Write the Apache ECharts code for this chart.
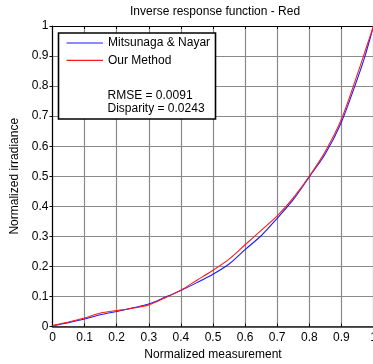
<!DOCTYPE html>
<html>
<head>
<meta charset="utf-8">
<script src="https://cdn.jsdelivr.net/npm/echarts@6/dist/echarts.min.js"></script>
<style>
  html, body { margin: 0; padding: 0; background: #fff; }
  #chart { width: 373px; height: 364px; }
</style>
</head>
<body>
<div id="chart"></div>
<script>
// Normalized measurement sample positions
const measurement = [0, 0.05, 0.1, 0.15, 0.2, 0.25, 0.3, 0.35, 0.4, 0.45, 0.5, 0.55, 0.6, 0.65, 0.7, 0.75, 0.8, 0.85, 0.9, 0.95, 0.975, 1];
// Inverse response, Mitsunaga & Nayar
const mitsunagaNayar = [0.002, 0.013, 0.025, 0.039, 0.05, 0.062, 0.075, 0.097, 0.12, 0.146, 0.174, 0.208, 0.256, 0.302, 0.36, 0.422, 0.498, 0.575, 0.68, 0.825, 0.905, 1];
// Inverse response, our method
const ourMethod = [0.003, 0.015, 0.028, 0.045, 0.053, 0.061, 0.072, 0.095, 0.121, 0.154, 0.187, 0.224, 0.272, 0.32, 0.368, 0.428, 0.5, 0.583, 0.69, 0.84, 0.92, 1];
const seriesNames = ['Mitsunaga & Nayar', 'Our Method'];
const statsLines = ['RMSE = 0.0091', 'Disparity = 0.0243'];

const FONT = '"Liberation Sans", Arial, Helvetica, sans-serif';
const pairs = (xs, ys) => xs.map((x, i) => [x, ys[i]]);
const tickFmt = v => String(Math.round(v * 10) / 10);

const chart = echarts.init(document.getElementById('chart'), null, { renderer: 'canvas' });
chart.setOption({
  animation: false,
  backgroundColor: '#fff',
  title: {
    text: 'Inverse response function - Red',
    left: 130, top: 6, padding: 0,
    textStyle: { fontFamily: FONT, fontSize: 12, fontWeight: 'normal', color: '#000' }
  },
  grid: { left: 52.5, top: 26, width: 321, height: 300.5, containLabel: false, outerBoundsMode: 'none' },
  legend: {
    data: seriesNames.map(name => ({ name, icon: 'rect' })),
    orient: 'vertical',
    left: 66.5, top: 36, padding: 0, z: 10,
    itemWidth: 36.5, itemHeight: 1.2, itemGap: 3.3,
    textStyle: { fontFamily: FONT, fontSize: 12, color: '#000', lineHeight: 14 }
  },
  xAxis: [{
    type: 'value', min: 0, max: 1, interval: 0.1,
    name: 'Normalized measurement', nameLocation: 'middle', nameGap: 19,
    nameTextStyle: { fontFamily: FONT, fontSize: 12, color: '#000' },
    axisLine: { lineStyle: { color: '#222', width: 1.6 } },
    axisTick: { inside: true, length: 3, lineStyle: { color: '#000' } },
    axisLabel: { fontFamily: FONT, fontSize: 12, color: '#000', margin: 5, formatter: tickFmt, hideOverlap: false },
    splitLine: { show: true, lineStyle: { color: '#8a8a8a', width: 1.2 } }
  }, {
    type: 'value', min: 0, max: 1, interval: 0.1, position: 'top',
    axisLine: { show: true, lineStyle: { color: '#000', width: 1.2 } },
    axisTick: { show: true, inside: true, length: 3, lineStyle: { color: '#000' } },
    axisLabel: { show: false },
    splitLine: { show: false }
  }],
  yAxis: {
    type: 'value', min: 0, max: 1, interval: 0.1,
    name: 'Normalized irradiance', nameLocation: 'middle', nameGap: 28,
    nameTextStyle: { fontFamily: FONT, fontSize: 12, color: '#000' },
    axisLine: { show: true, lineStyle: { color: '#000', width: 1.2 } },
    axisTick: { show: true, inside: false, length: 3, lineStyle: { color: '#000' } },
    axisLabel: { fontFamily: FONT, fontSize: 12, color: '#000', margin: 4, formatter: tickFmt },
    splitLine: { show: true, lineStyle: { color: '#8a8a8a', width: 1.2 } }
  },
  series: [{
    name: seriesNames[0], type: 'line', xAxisIndex: 0,
    data: pairs(measurement, mitsunagaNayar),
    symbol: 'none', smooth: 0.3,
    lineStyle: { color: '#1a1aff', width: 1.1 }, itemStyle: { color: '#1a1aff' }
  }, {
    name: seriesNames[1], type: 'line', xAxisIndex: 0,
    data: pairs(measurement, ourMethod),
    symbol: 'none', smooth: 0.3,
    lineStyle: { color: '#ff1a1a', width: 1.1 }, itemStyle: { color: '#ff1a1a' }
  }],
  graphic: [{
    type: 'rect', z: 3,
    shape: { x: 58.5, y: 33, width: 157, height: 86 },
    style: { fill: '#fff', stroke: '#000', lineWidth: 1.6 }
  }, {
    type: 'text', z: 11, left: 107.5, top: 90,
    style: { text: statsLines[0], font: '12px ' + FONT, fill: '#000' }
  }, {
    type: 'text', z: 11, left: 107.5, top: 103,
    style: { text: statsLines[1], font: '12px ' + FONT, fill: '#000' }
  }]
});
</script>
</body>
</html>
